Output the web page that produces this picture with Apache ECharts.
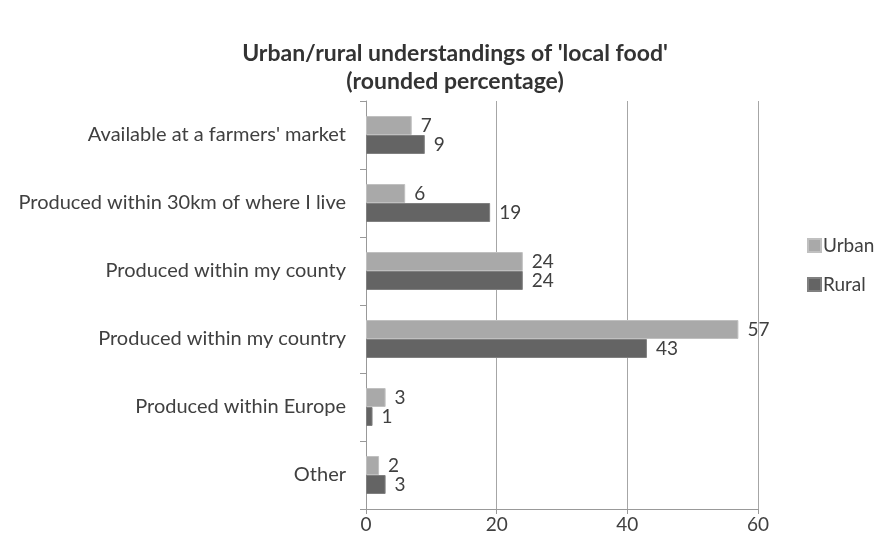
<!DOCTYPE html>
<html><head><meta charset="utf-8">
<script src="https://cdn.jsdelivr.net/npm/echarts@6/dist/echarts.min.js"></script>
<style>html,body{margin:0;padding:0;background:#fff}#c{width:880px;height:547px}</style>
</head><body><div id="c"></div>
<script>
const categories = ["Available at a farmers' market", "Produced within 30km of where I live", "Produced within my county", "Produced within my country", "Produced within Europe", "Other"];
const urban = [7, 6, 24, 57, 3, 2];
const rural = [9, 19, 24, 43, 1, 3];
const xTicks = [0, 20, 40, 60];

const font = "Lato, 'Open Sans', sans-serif";
const chart = echarts.init(document.getElementById('c'));
const lbl = {show: true, position: 'right', distance: 9, color: '#404040', fontSize: 19, fontFamily: font};
chart.setOption({
  animation: false,
  title: {
    text: "Urban/rural understandings of 'local food'\n(rounded percentage)",
    left: 450, textAlign: 'center', top: 35,
    textStyle: {fontFamily: font, fontSize: 23, fontWeight: 'bold', color: '#333', lineHeight: 28}
  },
  legend: {
    orient: 'vertical', left: 802, top: 231, itemGap: 20, itemWidth: 13, itemHeight: 13,
    icon: 'rect',
    textStyle: {fontFamily: font, fontSize: 19, color: '#404040', padding: [0,0,0,-3]},
    data: ['Urban', 'Rural']
  },
  grid: {left: 366, top: 101, width: 392, height: 408},
  xAxis: {
    type: 'value', min: 0, max: 60, interval: 20,
    axisLine: {show: true, lineStyle: {color: '#999'}},
    axisTick: {show: true, length: 5, lineStyle: {color: '#999'}},
    axisLabel: {color: '#404040', fontSize: 19, fontFamily: font, margin: 6,
      formatter: v => xTicks.includes(v) ? String(v) : ''},
    splitLine: {show: true, lineStyle: {color: '#a6a6a6', width: 1}}
  },
  yAxis: {
    type: 'category', data: categories, inverse: true,
    axisLine: {show: true, lineStyle: {color: '#999'}},
    axisTick: {show: true, length: 6, lineStyle: {color: '#999'}},
    axisLabel: {color: '#404040', fontSize: 20, fontFamily: font, margin: 20}
  },
  series: [
    {name: 'Urban', type: 'bar', data: urban, barWidth: 19, barGap: '0%',
     itemStyle: {color: '#a9a9a9', borderColor: '#c0c0c0', borderWidth: 1}, label: lbl},
    {name: 'Rural', type: 'bar', data: rural, barWidth: 19, barGap: '0%',
     itemStyle: {color: '#646464', borderColor: '#808080', borderWidth: 1}, label: lbl}
  ]
});
</script></body></html>
